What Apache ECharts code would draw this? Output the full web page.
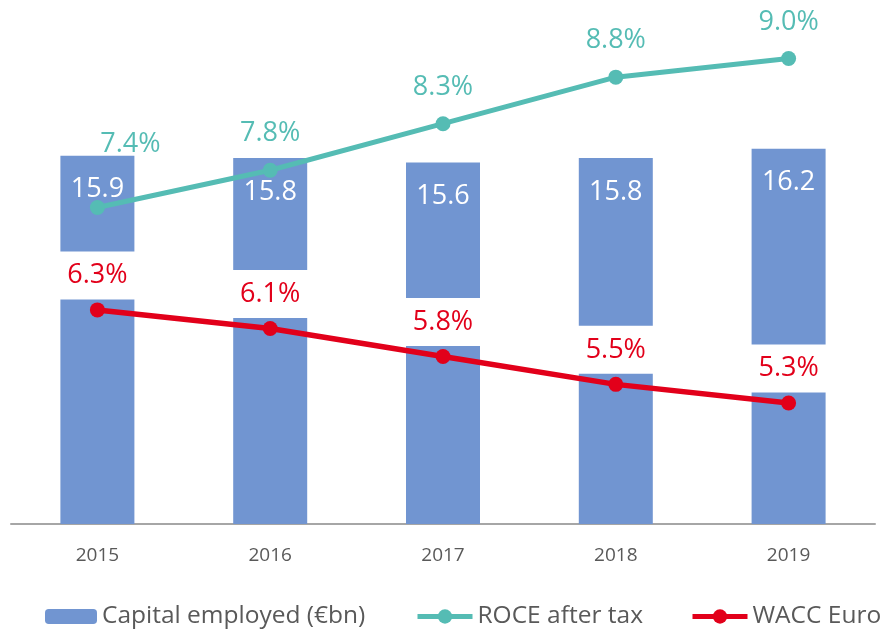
<!DOCTYPE html>
<html>
<head>
<meta charset="utf-8">
<title>Capital employed, ROCE and WACC</title>
<script src="https://cdn.jsdelivr.net/npm/echarts@6/dist/echarts.min.js"></script>
<style>
  html, body { margin: 0; padding: 0; background: #fff; }
  #chart { width: 886px; height: 630px; }
</style>
</head>
<body>
<div id="chart"></div>
<script>
/* data */
const years = ['2015', '2016', '2017', '2018', '2019']
const capitalEmployed = [15.9, 15.8, 15.6, 15.8, 16.2] // €bn
const roceAfterTax = [7.4, 7.8, 8.3, 8.8, 9.0] // %
const waccEuro = [6.3, 6.1, 5.8, 5.5, 5.3] // %

const FONT = '"Open Sans", Lato, sans-serif'
const BLUE = '#7195d1'
const TEAL = '#55bcb4'
const RED = '#e2001a'
const GREY_TEXT = '#595959'

const pct = p => p.value.toFixed(1) + '%'

// the 2015 ROCE label was moved up and to the right in the original
const roceData = roceAfterTax.map((v, i) =>
  i === 0 ? { value: v, label: { offset: [33, -27] } } : v
)

const legendText = { color: GREY_TEXT, fontSize: 24.5, fontFamily: FONT }

const chart = echarts.init(document.getElementById('chart'))
chart.setOption({
  animation: false,
  textStyle: { fontFamily: FONT },
  grid: { left: 11, right: 11, top: 12, bottom: 106 },
  /* three legends, so each item sits where it did in the original */
  legend: [
    { data: ['Capital employed (€bn)'], left: 45, top: 604, padding: 0, itemWidth: 52, itemHeight: 15, textStyle: legendText },
    { data: ['ROCE after tax'], left: 415, top: 604, padding: 0, itemWidth: 55, itemHeight: 18, lineStyle: { width: 5 }, textStyle: legendText },
    { data: ['WACC Euro'], left: 690, top: 604, padding: 0, itemWidth: 55, itemHeight: 18, lineStyle: { width: 5 }, textStyle: legendText }
  ],
  xAxis: {
    type: 'category',
    data: years,
    axisLine: { lineStyle: { color: '#a6a6a6', width: 2 } },
    axisTick: { show: false },
    axisLabel: { color: GREY_TEXT, fontSize: 19, margin: 22 }
  },
  yAxis: [
    { type: 'value', min: 0, max: 22.1, show: false },
    { type: 'value', min: 4, max: 9.5, show: false }
  ],
  series: [
    {
      name: 'Capital employed (€bn)',
      type: 'bar',
      barWidth: 74,
      itemStyle: { color: BLUE },
      label: {
        show: true,
        position: 'insideTop',
        distance: 21,
        color: '#fff',
        fontSize: 27,
        lineHeight: 26,
        formatter: p => p.value.toFixed(1)
      },
      data: capitalEmployed
    },
    {
      name: 'ROCE after tax',
      type: 'line',
      yAxisIndex: 1,
      z: 3,
      symbol: 'circle',
      symbolSize: 15,
      lineStyle: { color: TEAL, width: 5 },
      itemStyle: { color: TEAL },
      label: {
        show: true,
        position: 'top',
        distance: 16,
        color: TEAL,
        fontSize: 27,
        lineHeight: 26,
        formatter: pct
      },
      data: roceData
    },
    {
      name: 'WACC Euro',
      type: 'line',
      yAxisIndex: 1,
      z: 4,
      symbol: 'circle',
      symbolSize: 15,
      lineStyle: { color: RED, width: 5.5 },
      itemStyle: { color: RED },
      label: {
        show: true,
        position: 'top',
        distance: 3,
        color: RED,
        fontSize: 27,
        lineHeight: 26,
        width: 68,
        align: 'center',
        padding: [11, 6],
        backgroundColor: '#fff',
        formatter: pct
      },
      data: waccEuro
    }
  ]
})
</script>
</body>
</html>
